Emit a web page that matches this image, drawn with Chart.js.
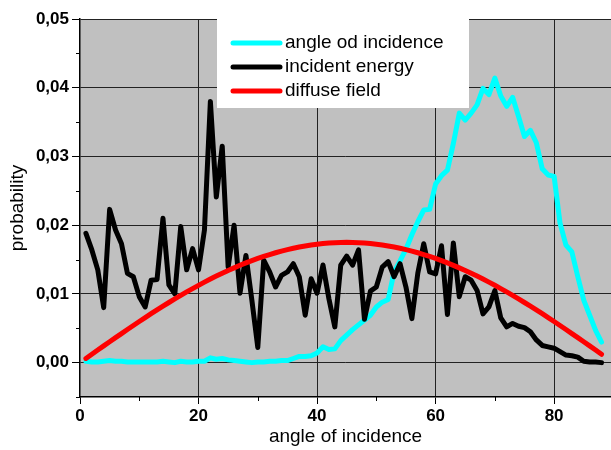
<!DOCTYPE html>
<html>
<head>
<meta charset="utf-8">
<script src="https://cdn.jsdelivr.net/npm/chart.js@4/dist/chart.umd.min.js"></script>
<style>
html, body { margin: 0; padding: 0; background: #fff; }
#wrap { width: 611px; height: 450px; }
</style>
</head>
<body>
<div id="wrap"><canvas id="myChart" width="611" height="450"></canvas></div>
<script>
// angle (deg)
var angles = [1,2,3,4,5,6,7,8,9,10,11,12,13,14,15,16,17,18,19,20,21,22,23,24,25,26,27,28,29,30,
    31,32,33,34,35,36,37,38,39,40,41,42,43,44,45,46,47,48,49,50,51,52,53,54,55,56,57,58,59,60,
    61,62,63,64,65,66,67,68,69,70,71,72,73,74,75,76,77,78,79,80,81,82,83,84,85,86,87,88];

var angleOdIncidence = [0.0002,0.0001,0.0001,0.0002,0.0003,0.0002,0.0002,0.0001,0.0001,0.0001,
    0.0001,0.0001,0.0001,0.0002,0.0001,0.0000,0.0002,0.0001,0.0001,0.0002,
    0.0002,0.0007,0.0005,0.0006,0.0004,0.0003,0.0002,0.0001,0.0000,0.0001,
    0.0001,0.0002,0.0002,0.0003,0.0003,0.0006,0.0009,0.0009,0.0010,0.0014,
    0.0023,0.0019,0.0020,0.0032,0.0040,0.0048,0.0055,0.0062,0.0069,0.0081,
    0.0088,0.0092,0.0132,0.0148,0.0165,0.0186,0.0205,0.0222,0.0223,0.0260,
    0.0272,0.0280,0.0319,0.0363,0.0353,0.0363,0.0375,0.0399,0.0390,0.0414,
    0.0388,0.0373,0.0386,0.0358,0.0329,0.0338,0.0320,0.0282,0.0273,0.0271,
    0.0203,0.0171,0.0161,0.0125,0.0091,0.0069,0.0047,0.0030];

var incidentEnergy = [0.0188,0.0164,0.0135,0.0080,0.0223,0.0193,0.0173,0.0130,0.0125,0.0096,
    0.0081,0.0120,0.0121,0.0210,0.0113,0.0100,0.0198,0.0135,0.0166,0.0135,
    0.0193,0.0380,0.0241,0.0315,0.0139,0.0200,0.0101,0.0156,0.0091,0.0022,
    0.0149,0.0132,0.0110,0.0127,0.0132,0.0144,0.0125,0.0069,0.0122,0.0101,
    0.0142,0.0093,0.0052,0.0142,0.0155,0.0142,0.0164,0.0063,0.0104,0.0110,
    0.0139,0.0147,0.0125,0.0144,0.0110,0.0064,0.0130,0.0173,0.0132,0.0129,
    0.0170,0.0070,0.0174,0.0096,0.0125,0.0120,0.0105,0.0071,0.0081,0.0105,
    0.0065,0.0052,0.0057,0.0053,0.0051,0.0045,0.0033,0.0025,0.0023,0.0021,
    0.0016,0.0011,0.0010,0.0008,0.0002,0.0001,0.0001,0.0000];

var diffuseField = [0.00061,0.00122,0.00183,0.00244,0.00304,0.00364,0.00423,0.00482,0.00541,0.00599,
    0.00656,0.00712,0.00767,0.00822,0.00875,0.00927,0.00979,0.01029,0.01077,0.01125,
    0.01171,0.01216,0.01259,0.01300,0.01341,0.01379,0.01416,0.01451,0.01484,0.01516,
    0.01545,0.01573,0.01599,0.01623,0.01644,0.01664,0.01682,0.01698,0.01712,0.01723,
    0.01733,0.01740,0.01746,0.01749,0.01750,0.01749,0.01746,0.01740,0.01733,0.01723,
    0.01712,0.01698,0.01682,0.01664,0.01644,0.01623,0.01599,0.01573,0.01545,0.01516,
    0.01484,0.01451,0.01416,0.01379,0.01341,0.01300,0.01259,0.01216,0.01171,0.01125,
    0.01077,0.01029,0.00979,0.00927,0.00875,0.00822,0.00767,0.00712,0.00656,0.00599,
    0.00541,0.00482,0.00423,0.00364,0.00304,0.00244,0.00183,0.00122];

var seriesNames = ['angle od incidence', 'incident energy', 'diffuse field'];
var seriesColors = ['#00FFFF', '#000000', '#FF0000'];

var xMajor = [0, 20, 40, 60, 80];
var xMinor = [10, 30, 50, 70];
var yMajor = [0, 0.01, 0.02, 0.03, 0.04, 0.05];
var yMinor = [-0.005, 0.005, 0.015, 0.025, 0.035, 0.045];

function toPoints(vals) {
    return angles.map(function (a, i) { return { x: a, y: vals[i] }; });
}
function isMajorX(v) { return xMajor.indexOf(Math.round(v)) >= 0; }
function isMajorY(v) { return yMajor.indexOf(Math.round(v * 1000) / 1000) >= 0; }

// grey plot area + minor ticks
const plotBack = {
    id: 'plotBack',
    beforeDraw(chart) {
        const a = chart.chartArea, ctx = chart.ctx;
        ctx.save();
        ctx.fillStyle = '#C0C0C0';
        ctx.fillRect(a.left, a.top, a.right - a.left, a.bottom - a.top);
        ctx.restore();
    },
    afterDraw(chart) {
        const a = chart.chartArea, ctx = chart.ctx;
        const xs = chart.scales.x, ys = chart.scales.y;
        ctx.save();
        ctx.strokeStyle = '#000';
        ctx.lineWidth = 1;
        xMinor.forEach(function (v) {
            const px = Math.round(xs.getPixelForValue(v)) + 0.5;
            ctx.beginPath(); ctx.moveTo(px, a.bottom); ctx.lineTo(px, a.bottom + 4); ctx.stroke();
        });
        yMinor.forEach(function (v) {
            const py = Math.round(ys.getPixelForValue(v)) + 0.5;
            ctx.beginPath(); ctx.moveTo(a.left - 4, py); ctx.lineTo(a.left, py); ctx.stroke();
        });
        ctx.restore();
    }
};

// white legend box inside the plot
const boxLegend = {
    id: 'boxLegend',
    afterDatasetsDraw(chart) {
        const ctx = chart.ctx;
        const x0 = 217, y0 = 19, w = 252, h = 89;
        ctx.save();
        ctx.fillStyle = '#fff';
        ctx.fillRect(x0, y0, w, h);
        ctx.font = '19px "Liberation Sans", Arial, sans-serif';
        ctx.textBaseline = 'middle';
        ctx.lineCap = 'round';
        seriesNames.forEach(function (name, i) {
            const y = 43 + i * 24;
            ctx.strokeStyle = seriesColors[i];
            ctx.lineWidth = 5;
            ctx.beginPath(); ctx.moveTo(233, y); ctx.lineTo(280, y); ctx.stroke();
            ctx.fillStyle = '#000';
            ctx.fillText(name, 285, y);
        });
        ctx.restore();
    }
};

const ctx = document.getElementById('myChart').getContext('2d');
const myChart = new Chart(ctx, {
    type: 'line',
    data: {
        datasets: [{
            label: seriesNames[0],
            data: toPoints(angleOdIncidence),
            borderColor: seriesColors[0],
            borderWidth: 5,
            order: 2
        }, {
            label: seriesNames[1],
            data: toPoints(incidentEnergy),
            borderColor: seriesColors[1],
            borderWidth: 5,
            order: 1
        }, {
            label: seriesNames[2],
            data: toPoints(diffuseField),
            borderColor: seriesColors[2],
            borderWidth: 5,
            order: 0
        }]
    },
    options: {
        responsive: false,
        animation: false,
        events: [],
        layout: { padding: { top: 19, right: 0, left: 0, bottom: 0 } },
        elements: {
            point: { radius: 0 },
            line: { tension: 0, borderJoinStyle: 'round', borderCapStyle: 'round', fill: false }
        },
        plugins: { legend: { display: false }, tooltip: { enabled: false } },
        scales: {
            x: {
                type: 'linear',
                min: 0,
                max: 89.6,
                afterFit: function (s) { s.height = 53; },
                border: { color: '#000', width: 1.5 },
                grid: {
                    color: function (c) { return (c.tick && isMajorX(c.tick.value) && c.tick.value > 0 && c.tick.value < 85) ? '#222' : 'rgba(0,0,0,0)'; },
                    tickColor: function (c) { return (c.tick && isMajorX(c.tick.value) && c.tick.value < 85) ? '#000' : 'rgba(0,0,0,0)'; },
                    tickLength: 7,
                    lineWidth: 1
                },
                ticks: {
                    stepSize: 10,
                    includeBounds: false,
                    autoSkip: false,
                    maxRotation: 0,
                    padding: 2,
                    color: '#000',
                    font: { family: '"Liberation Sans", Arial, sans-serif', size: 17, weight: 'bold' },
                    callback: function (v) { return (isMajorX(v) && v < 85) ? String(Math.round(v)) : ''; }
                },
                title: {
                    display: true,
                    text: 'angle of incidence',
                    color: '#000',
                    padding: { top: 0, bottom: 2 },
                    font: { family: '"Liberation Sans", Arial, sans-serif', size: 19 }
                }
            },
            y: {
                type: 'linear',
                min: -0.005,
                max: 0.05,
                afterFit: function (s) { s.width = 80; },
                border: { color: '#000', width: 1.5 },
                grid: {
                    color: function (c) { return (c.tick && isMajorY(c.tick.value)) ? '#222' : 'rgba(0,0,0,0)'; },
                    tickColor: function (c) { return (c.tick && isMajorY(c.tick.value)) ? '#000' : 'rgba(0,0,0,0)'; },
                    tickLength: 8,
                    lineWidth: 1
                },
                ticks: {
                    stepSize: 0.005,
                    autoSkip: false,
                    padding: 3,
                    color: '#000',
                    font: { family: '"Liberation Sans", Arial, sans-serif', size: 17, weight: 'bold' },
                    callback: function (v) { return isMajorY(v) ? v.toFixed(2).replace('.', ',') : ''; }
                },
                title: {
                    display: true,
                    text: 'probability',
                    color: '#000',
                    padding: { top: 6, bottom: 0 },
                    font: { family: '"Liberation Sans", Arial, sans-serif', size: 19 }
                }
            }
        }
    },
    plugins: [plotBack, boxLegend]
});
</script>
</body>
</html>
